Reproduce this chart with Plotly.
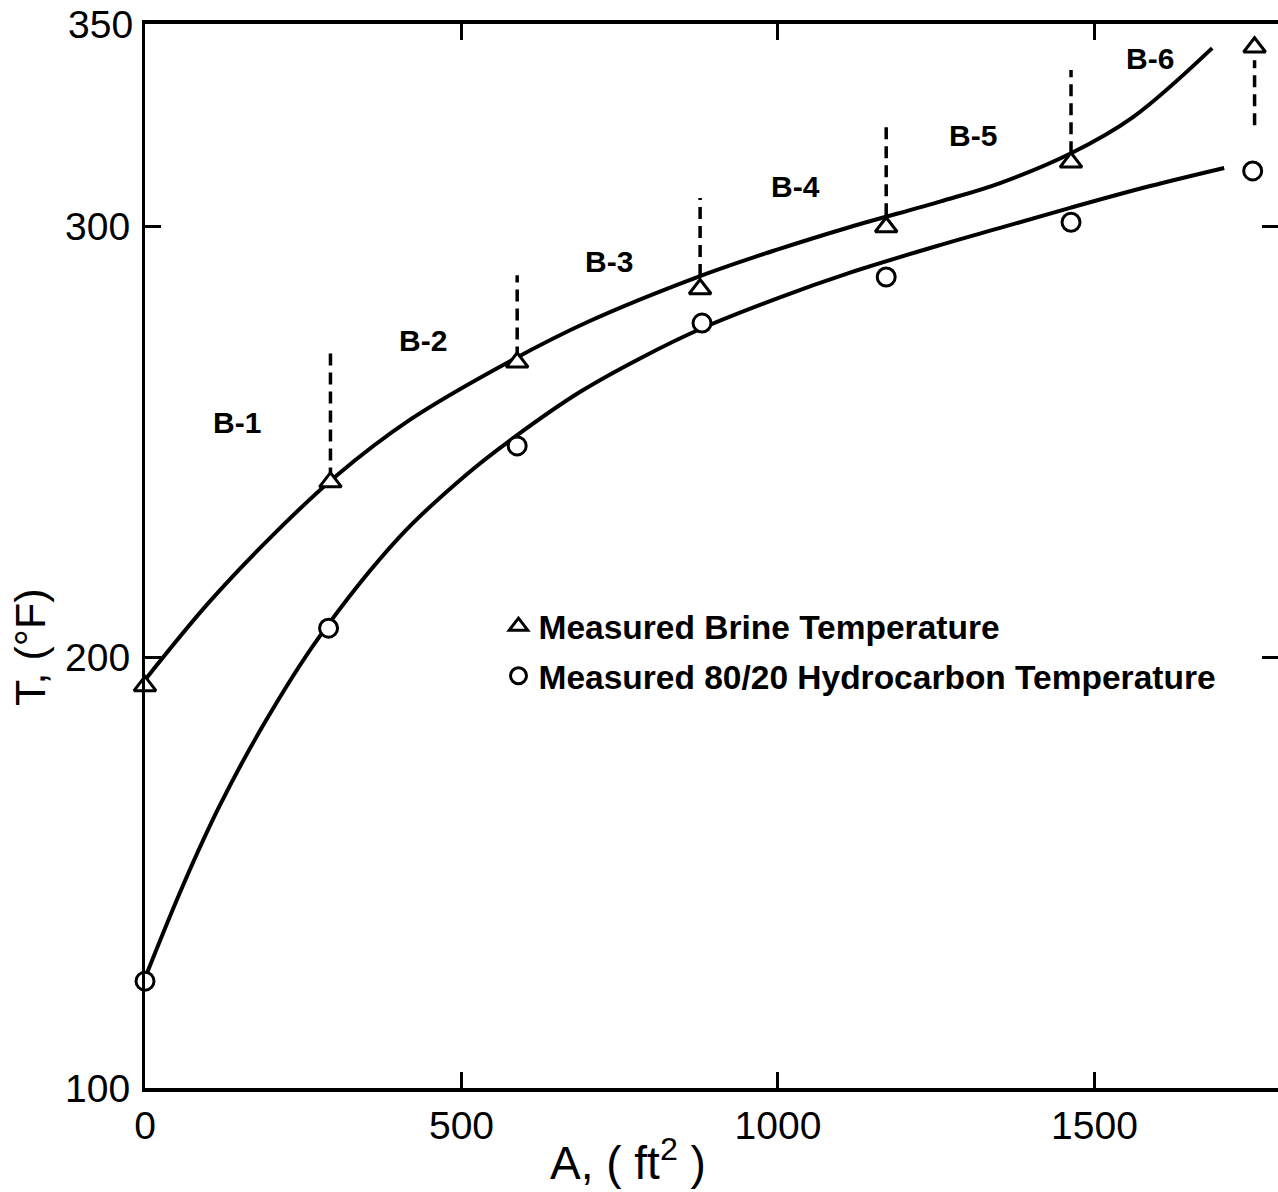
import plotly.graph_objects as go

# ---------------- data ----------------
brine_x = [0, 293, 588, 877, 1171, 1463, 1753]
brine_y = [193.3, 240.6, 268.4, 285.4, 299.8, 314.8, 341.5]

hc_x = [0, 290, 588, 880, 1171, 1463, 1750]
hc_y = [124.8, 206.7, 249.0, 277.5, 288.2, 300.9, 312.8]

brine_fit_x = [0, 100, 200, 300, 420, 581, 700, 877, 1000, 1114, 1256, 1351, 1463, 1561, 1686]
brine_fit_y = [194.7, 212.5, 228.0, 241.8, 255.2, 269.0, 277.8, 288.4, 294.6, 299.8, 305.7,
               310.0, 316.9, 325.3, 341.3]

hc_fit_x = [0, 60, 118, 186, 272, 403, 509, 588, 687, 782, 880, 1000, 1114, 1256, 1351, 1463,
            1588, 1705]
hc_fit_y = [125.5, 147.0, 165.5, 184.0, 204.0, 228.0, 242.5, 251.5, 261.5, 269.3, 276.3, 283.3,
            289.2, 295.6, 299.6, 304.3, 309.3, 313.5]

# dashed bank dividers (x, lower T, upper T)
div_x = [293, 588, 877, 1171, 1463, 1753]
div_lo = [241.2, 269.3, 288.4, 302.5, 316.9, 323.4]
div_hi = [270.8, 288.6, 306.5, 323.4, 336.2, 338.5]

bank_labels = ["B-1", "B-2", "B-3", "B-4", "B-5", "B-6"]
bank_lx = [145, 439, 733, 1027, 1308, 1588]
bank_ly = [254.5, 273.5, 291.9, 309.3, 321.1, 339.0]

x_ticks = [0, 500, 1000, 1500]
y_ticks = [100, 200, 300]
x_range = [0, 1790]
y_range = [100, 346.9]

# ---------------- figure ----------------
fig = go.Figure()

# dashed dividers
dx, dy = [], []
for x, lo, hi in zip(div_x, div_lo, div_hi):
    dx += [x, x, None]
    dy += [lo, hi, None]
fig.add_trace(go.Scatter(x=dx, y=dy, mode="lines", showlegend=False,
                         line=dict(color="black", width=3.5, dash="12px,7px"),
                         hoverinfo="skip"))

# fitted curves
fig.add_trace(go.Scatter(x=brine_fit_x, y=brine_fit_y, mode="lines", showlegend=False,
                         line=dict(color="black", width=4, shape="spline", smoothing=1.0),
                         hoverinfo="skip"))
fig.add_trace(go.Scatter(x=hc_fit_x, y=hc_fit_y, mode="lines", showlegend=False,
                         line=dict(color="black", width=4, shape="spline", smoothing=1.0),
                         hoverinfo="skip"))

# measured points
fig.add_trace(go.Scatter(x=brine_x, y=brine_y, mode="markers",
                         name="Measured Brine Temperature", legendgroup="a",
                         marker=dict(symbol="triangle-up", size=19, color="white",
                                     line=dict(color="black", width=3)),
                         cliponaxis=False))
fig.add_trace(go.Scatter(x=hc_x, y=hc_y, mode="markers",
                         name="Measured 80/20 Hydrocarbon Temperature", legendgroup="b",
                         marker=dict(symbol="circle", size=18, color="white",
                                     line=dict(color="black", width=3)),
                         cliponaxis=False))

# invisible trace on a right-hand axis to draw the right-side ticks
fig.add_trace(go.Scatter(x=[None], y=[None], yaxis="y2", showlegend=False, hoverinfo="skip"))

for t, x, y in zip(bank_labels, bank_lx, bank_ly):
    fig.add_annotation(x=x, y=y, text=t, showarrow=False,
                       font=dict(family="Liberation Sans", size=30, color="black", weight="bold"))

tickfont = dict(family="Liberation Sans", size=39, color="black")

fig.add_annotation(xref="paper", yref="paper", x=0, y=1, xanchor="right", yanchor="middle",
                   xshift=-10, text="350", showarrow=False, font=tickfont)

fig.add_annotation(xref="paper", yref="paper", x=-0.1015, y=0.4145, textangle=-90,
                   xanchor="center", yanchor="middle",
                   text="T, (°F)", showarrow=False,
                   font=dict(family="Liberation Sans", size=43, color="black"))
fig.add_annotation(xref="paper", yref="paper", x=0.426, y=-0.0677,
                   xanchor="center", yanchor="middle",
                   text="A, ( ft<sup>2</sup> )", showarrow=False,
                   font=dict(family="Liberation Sans", size=46, color="black"))

fig.update_layout(
    width=1278, height=1192,
    margin=dict(l=145, r=0, t=24, b=104),
    paper_bgcolor="white", plot_bgcolor="white",
    showlegend=True,
    legend=dict(x=0.312, y=0.4606, xanchor="left", yanchor="top",
                traceorder="grouped", tracegroupgap=3,
                bgcolor="rgba(0,0,0,0)",
                font=dict(family="Liberation Sans", size=33.5, color="black", weight="bold")),
    xaxis=dict(range=x_range, tickvals=x_ticks, ticks="inside", ticklen=16, tickwidth=3,
               tickcolor="black", showline=True, linecolor="black", linewidth=3.5,
               mirror="ticks", showgrid=False, zeroline=False, tickfont=tickfont),
    yaxis=dict(range=y_range, tickvals=y_ticks, ticks="inside", ticklen=16, tickwidth=3,
               tickcolor="black", showline=True, linecolor="black", linewidth=3,
               mirror=False, showgrid=False, zeroline=False, tickfont=tickfont,
               ticklabelstandoff=4),
    yaxis2=dict(range=y_range, overlaying="y", side="right", tickvals=[200, 300],
                ticks="inside", ticklen=16, tickwidth=3, tickcolor="black",
                showticklabels=False, showline=False, showgrid=False, zeroline=False),
)

fig.write_html("out.html")
